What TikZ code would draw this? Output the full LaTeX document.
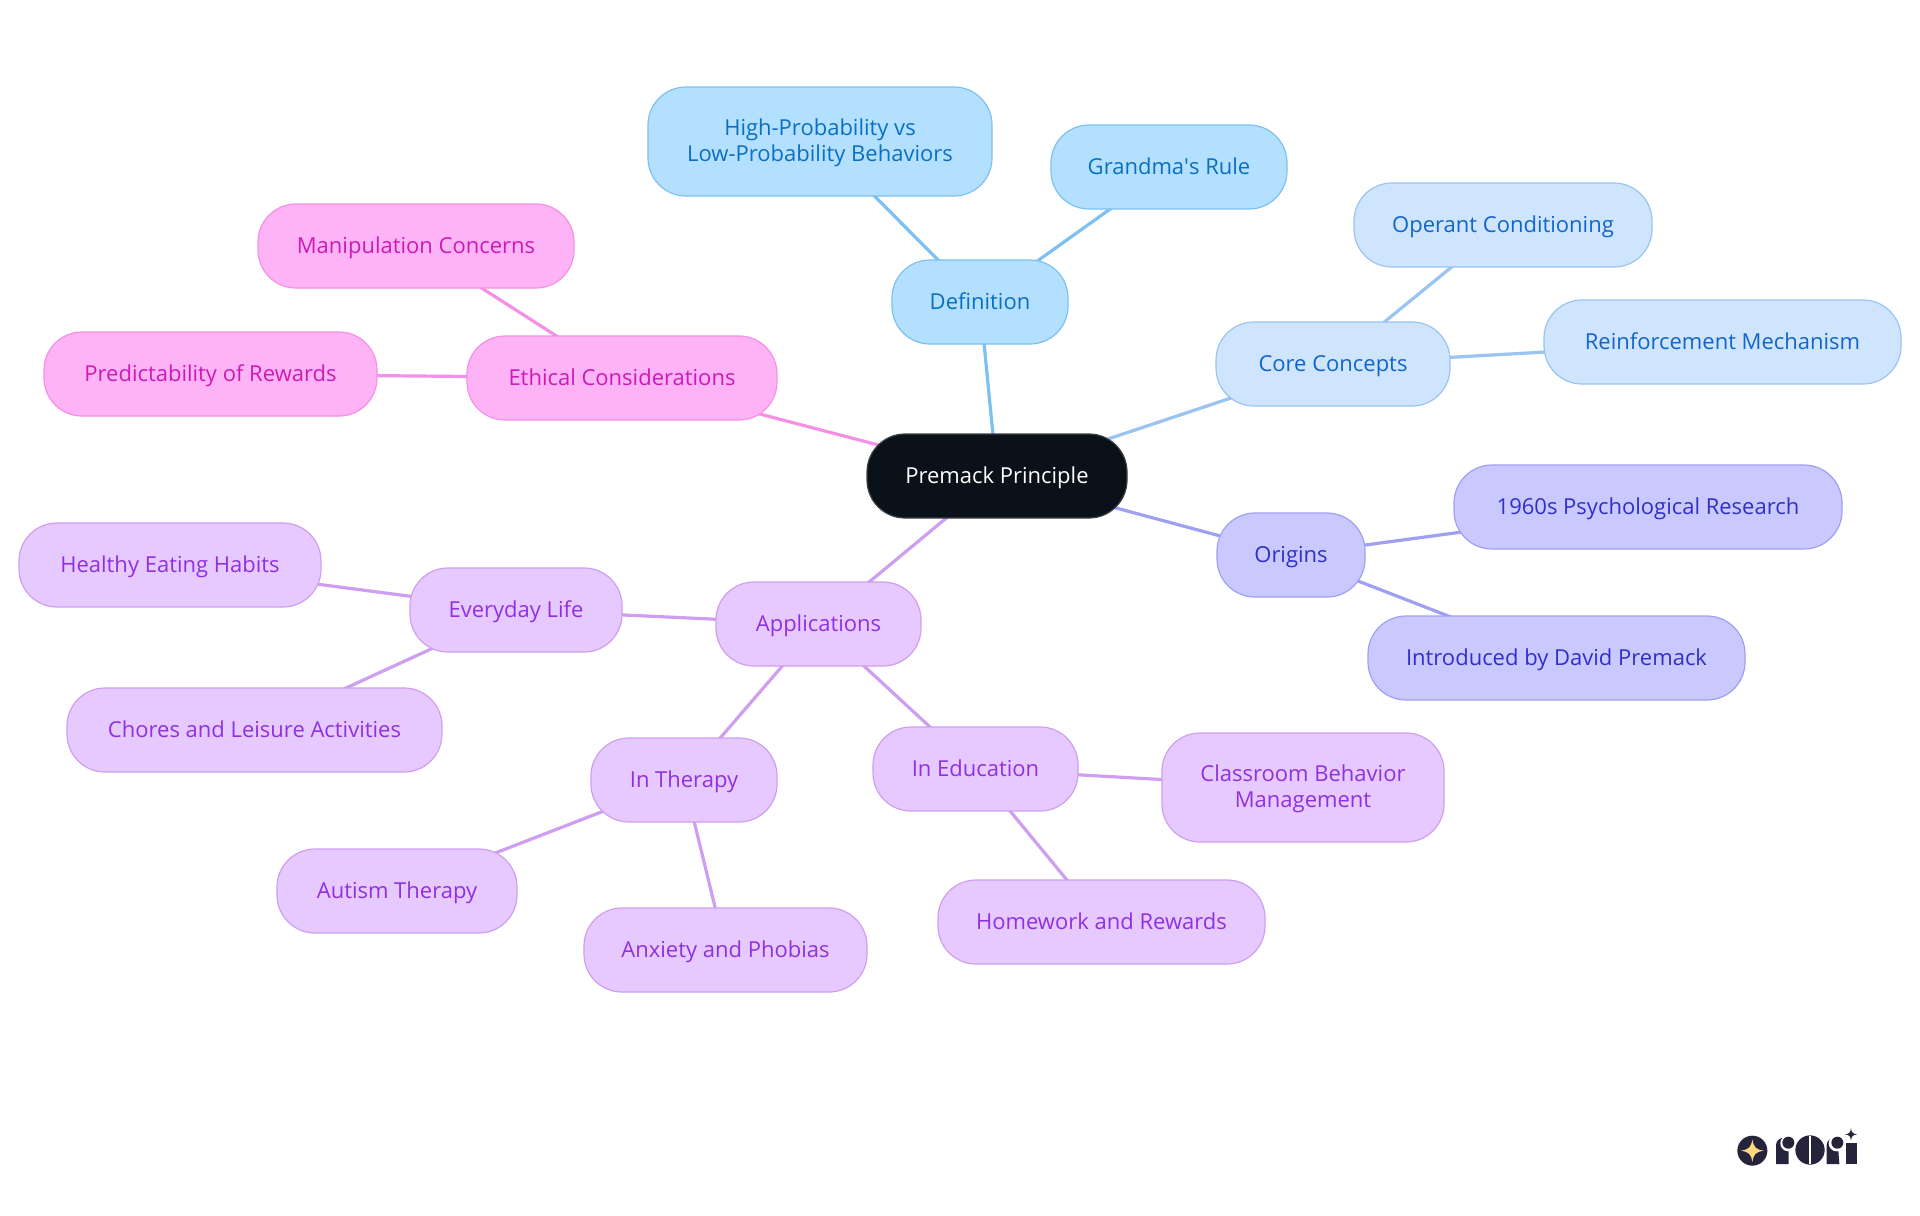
\documentclass[tikz,border=0pt]{standalone}
\usepackage{fontspec}
\setmainfont{Open Sans}
\usetikzlibrary{backgrounds}
\definecolor{cRoot}{HTML}{0B1119}
\definecolor{fA}{HTML}{B3E0FF}\definecolor{bA}{HTML}{7CC1F0}\definecolor{tA}{HTML}{0B6FC2}
\definecolor{fB}{HTML}{CFE4FD}\definecolor{bB}{HTML}{9BC4F2}\definecolor{tB}{HTML}{1166CC}
\definecolor{fC}{HTML}{C9C9FF}\definecolor{bC}{HTML}{A0A0F2}\definecolor{tC}{HTML}{3030C8}
\definecolor{fD}{HTML}{E6CAFF}\definecolor{bD}{HTML}{CF9EF0}\definecolor{tD}{HTML}{9030E0}
\definecolor{fE}{HTML}{FFB3F7}\definecolor{bE}{HTML}{F590E6}\definecolor{tE}{HTML}{CC1AB8}
\definecolor{logoDark}{HTML}{26243A}\definecolor{logoStar}{HTML}{FFD97D}
\tikzset{
  mm/.style={rectangle,rounded corners=19pt,line width=.6pt,inner sep=0pt,align=center,font=\fontsize{11}{12.6}\selectfont},
  rootn/.style={mm,fill=cRoot,draw=cRoot!80!white,text=white},
  na/.style={mm,fill=fA,draw=bA,text=tA},
  nb/.style={mm,fill=fB,draw=bB,text=tB},
  nc/.style={mm,fill=fC,draw=bC,text=tC},
  nd/.style={mm,fill=fD,draw=bD,text=tD},
  ne/.style={mm,fill=fE,draw=bE,text=tE},
  ea/.style={draw=bA,line width=1.6pt},
  eb/.style={draw=bB,line width=1.6pt},
  ec/.style={draw=bC,line width=1.6pt},
  ed/.style={draw=bD,line width=1.6pt},
  ee/.style={draw=bE,line width=1.6pt},
}
\newcommand{\mmnode}[7]{%
  \pgfmathsetmacro{\cxv}{(#3+#4)/2}\pgfmathsetmacro{\cyv}{(#5+#6)/2}%
  \pgfmathsetmacro{\wv}{(#4-#3)*0.5}\pgfmathsetmacro{\hv}{(#6-#5)*0.5}%
  \node[#2,minimum width=\wv pt,minimum height=\hv pt] (#1) at (\cxv,\cyv) {\rule{0pt}{9.7pt}\vphantom{g}#7};}
\begin{document}
\begin{tikzpicture}[x=0.5pt,y=-0.5pt]
\useasboundingbox (0,0) rectangle (1920,1215);
\mmnode{root}{rootn}{867}{1127}{434}{518}{Premack Principle}
\mmnode{def}{na}{892}{1068}{260}{344}{Definition}
\mmnode{high}{na}{648}{992}{87}{196}{High-Probability vs\\Low-Probability Behaviors}
\mmnode{gran}{na}{1051}{1287}{125}{209}{Grandma\textquotesingle s Rule}
\mmnode{core}{nb}{1216}{1450}{322}{406}{Core Concepts}
\mmnode{oper}{nb}{1354}{1652}{183}{267}{Operant Conditioning}
\mmnode{rein}{nb}{1544}{1901}{300}{384}{Reinforcement Mechanism}
\mmnode{orig}{nc}{1217}{1365}{513}{597}{Origins}
\mmnode{res}{nc}{1454}{1842}{465}{549}{1960s Psychological Research}
\mmnode{intr}{nc}{1368}{1745}{616}{700}{Introduced by David Premack}
\mmnode{eth}{ne}{467}{777}{336}{420}{Ethical Considerations}
\mmnode{mani}{ne}{258}{574}{204}{288}{Manipulation Concerns}
\mmnode{pred}{ne}{44}{377}{332}{416}{Predictability of Rewards}
\mmnode{appl}{nd}{716}{921}{582}{666}{Applications}
\mmnode{life}{nd}{410}{622}{568}{652}{Everyday Life}
\mmnode{heal}{nd}{19}{321}{523}{607}{Healthy Eating Habits}
\mmnode{chor}{nd}{67}{442}{688}{772}{Chores and Leisure Activities}
\mmnode{ther}{nd}{591}{777}{738}{822}{In Therapy}
\mmnode{auti}{nd}{277}{517}{849}{933}{Autism Therapy}
\mmnode{anxi}{nd}{584}{867}{908}{992}{Anxiety and Phobias}
\mmnode{educ}{nd}{873}{1078}{727}{811}{In Education}
\mmnode{clas}{nd}{1162}{1444}{733}{842}{Classroom Behavior\\Management}
\mmnode{home}{nd}{938}{1265}{880}{964}{Homework and Rewards}
\begin{scope}[on background layer]
\fill[white] (0,0) rectangle (1920,1215);
\draw[ea] (root.center)--(def.center);
\draw[ea] (def.center)--(high.center);
\draw[ea] (def.center)--(gran.center);
\draw[eb] (root.center)--(core.center);
\draw[eb] (core.center)--(oper.center);
\draw[eb] (core.center)--(rein.center);
\draw[ec] (root.center)--(orig.center);
\draw[ec] (orig.center)--(res.center);
\draw[ec] (orig.center)--(intr.center);
\draw[ee] (root.center)--(eth.center);
\draw[ee] (eth.center)--(mani.center);
\draw[ee] (eth.center)--(pred.center);
\draw[ed] (root.center)--(appl.center);
\draw[ed] (appl.center)--(life.center);
\draw[ed] (appl.center)--(ther.center);
\draw[ed] (appl.center)--(educ.center);
\draw[ed] (life.center)--(heal.center);
\draw[ed] (life.center)--(chor.center);
\draw[ed] (ther.center)--(auti.center);
\draw[ed] (ther.center)--(anxi.center);
\draw[ed] (educ.center)--(clas.center);
\draw[ed] (educ.center)--(home.center);
\end{scope}
% logo (zoom-crop coordinates: 3 units per reference pixel)
\begin{scope}[shift={(1700,1100)},x=0.16667pt,y=-0.16667pt]
\fill[logoDark] (157,152) circle[radius=45];
\fill[logoStar] (157,118) .. controls (161,142) and (167,148) .. (191,152) .. controls (167,156) and (161,162) .. (157,186) .. controls (153,162) and (147,156) .. (123,152) .. controls (147,148) and (153,142) .. (157,118) -- cycle;
\fill[logoDark] (228,192) -- (228,135) .. controls (228,122) and (240,113) .. (252,113) -- (266,113) -- (266,192) -- cycle;
\fill[white] (266,113) rectangle (285,150);
\fill[white] (265,130) circle[radius=24];
\fill[logoDark] (265,128) circle[radius=18];
\fill[logoDark] (330,150) ellipse[x radius=44,y radius=44];
\fill[white] (327,108) rectangle (332,192);
\fill[logoDark] (380,192) -- (380,135) .. controls (380,122) and (392,113) .. (404,113) -- (412,113) -- (418,192) -- cycle;
\fill[white] (410,130) circle[radius=24];
\fill[logoDark] (412,128) circle[radius=18];
\fill[logoDark] (438,128) rectangle (470,192);
\fill[logoDark] (453,85) .. controls (455,98) and (458,101) .. (471,103) .. controls (458,105) and (455,108) .. (453,121) .. controls (451,108) and (448,105) .. (435,103) .. controls (448,101) and (451,98) .. (453,85) -- cycle;
\end{scope}
\end{tikzpicture}
\end{document}
